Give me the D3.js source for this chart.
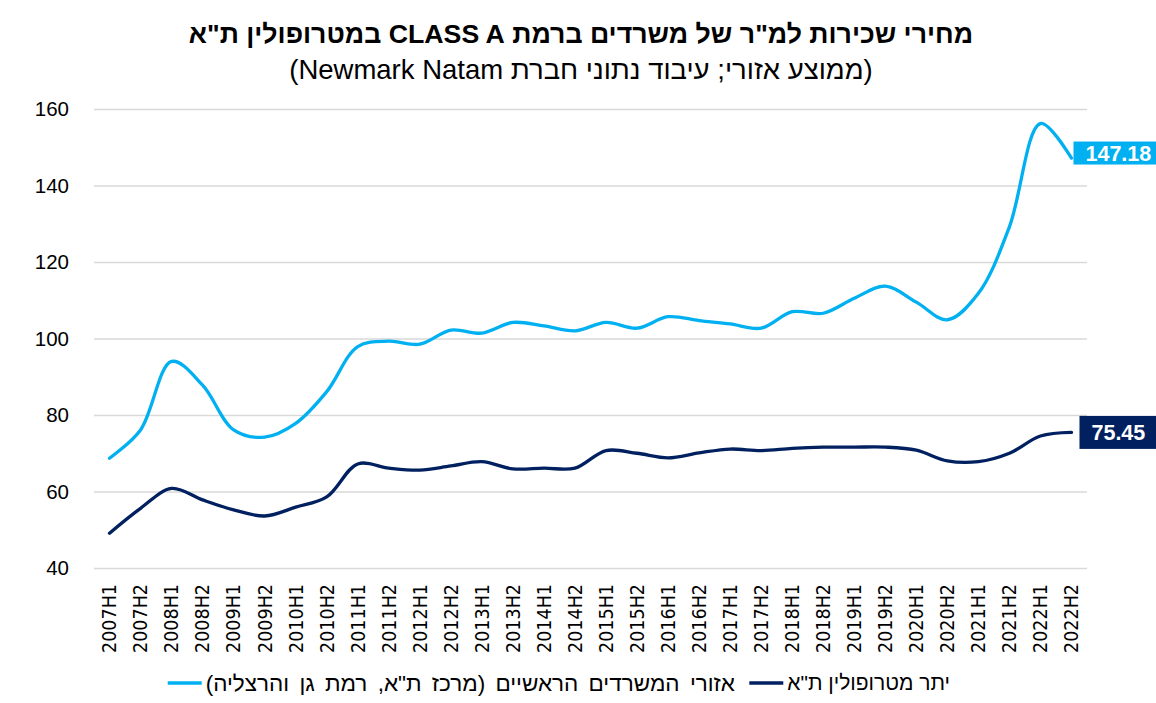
<!DOCTYPE html>
<html>
<head>
<meta charset="utf-8">
<script src="https://cdn.jsdelivr.net/npm/d3@7"></script>
<style>
  body { margin: 0; background: #fff; }
  text { font-family: 'Liberation Sans', Arial, sans-serif; }
</style>
</head>
<body>
<div id="viz"></div>
<script>
const width = 1156;
const height = 703;
const plotLeft = 94;
const plotRight = 1087;
const plotTop = 109;
const plotBottom = 568;

const lightBlue = '#00b0f0';
const navy = '#002060';
const gridColor = '#d9d9d9';

// half-year periods on the category axis
const periods = [
  '2007H1', '2007H2', '2008H1', '2008H2', '2009H1', '2009H2', '2010H1', '2010H2',
  '2011H1', '2011H2', '2012H1', '2012H2', '2013H1', '2013H2', '2014H1', '2014H2',
  '2015H1', '2015H2', '2016H1', '2016H2', '2017H1', '2017H2', '2018H1', '2018H2',
  '2019H1', '2019H2', '2020H1', '2020H2', '2021H1', '2021H2', '2022H1', '2022H2',
];

// main office areas (TA centre, Ramat Gan, Herzliya)
const mainOffices = [
  68.7, 76.1, 94.0, 87.8, 76.1, 74.2, 77.8, 86.1,
  97.9, 99.3, 98.5, 102.2, 101.4, 104.2, 103.3, 102.0,
  104.2, 102.7, 105.7, 104.7, 103.8, 102.7, 107.0, 106.6,
  110.5, 113.7, 109.5, 104.9, 111.8, 129.2, 156.2, 147.18,
];

// rest of TA metropolitan area
const restOfMetro = [
  49.1, 55.6, 60.8, 57.8, 55.2, 53.6, 55.9, 58.6,
  67.2, 66.1, 65.6, 66.7, 67.8, 65.9, 66.1, 66.1,
  70.7, 70.0, 68.8, 70.1, 71.1, 70.7, 71.3, 71.6,
  71.6, 71.6, 70.8, 68.0, 67.8, 70.0, 74.5, 75.45,
];

const yTicks = [40, 60, 80, 100, 120, 140, 160];

const titleText = 'מחירי שכירות למ"ר של משרדים ברמת CLASS A במטרופולין ת"א';
const subtitleText = '(ממוצע אזורי; עיבוד נתוני חברת Newmark Natam)';
const legendMain = 'אזורי המשרדים הראשיים (מרכז ת"א, רמת גן והרצליה)';
const legendRest = 'יתר מטרופולין ת"א';

const svg = d3
  .select('#viz')
  .append('svg')
  .attr('width', width)
  .attr('height', height)
  .attr('viewBox', [0, 0, width, height]);

const xScale = d3.scaleBand().domain(periods).range([plotLeft, plotRight]).padding(0);
const yScale = d3.scaleLinear().domain([40, 160]).range([plotBottom, plotTop]);
const xPos = (d, i) => xScale(periods[i]) + xScale.bandwidth() / 2;

// gridlines + y labels
const yAxis = d3
  .axisLeft(yScale)
  .tickValues(yTicks)
  .tickSize(-(plotRight - plotLeft))
  .tickPadding(25);

svg
  .append('g')
  .attr('transform', `translate(${plotLeft},0)`)
  .call(yAxis)
  .call((g) => g.select('.domain').remove())
  .call((g) => g.selectAll('.tick line').attr('stroke', gridColor).attr('stroke-width', 1.3))
  .call((g) =>
    g
      .selectAll('.tick text')
      .attr('fill', '#000')
      .style('font-family', "'Liberation Sans', Arial, sans-serif")
      .style('font-size', '20.5px')
  );

// x axis labels, rotated
const xAxis = d3.axisBottom(xScale).tickSize(0).tickPadding(0);
svg
  .append('g')
  .attr('transform', `translate(0,${plotBottom})`)
  .call(xAxis)
  .call((g) => g.select('.domain').remove())
  .call((g) =>
    g
      .selectAll('.tick text')
      .attr('fill', '#000')
      .attr('transform', 'rotate(-90)')
      .attr('text-anchor', 'end')
      .attr('dy', '0.35em')
      .attr('x', -16)
      .attr('y', 0)
      .style('font-family', "'DejaVu Sans Condensed', 'DejaVu Sans', sans-serif")
      .style('font-size', '19.5px')
  );

// the two smoothed lines
const line = d3
  .line()
  .x(xPos)
  .y((d) => yScale(d))
  .curve(d3.curveCatmullRom.alpha(0.5));

const series = [
  { values: mainOffices, color: lightBlue, boxH: 23, boxDy: -5, boxDx: 2 },
  { values: restOfMetro, color: navy, boxH: 33, boxDy: 0, boxDx: 8 },
];

series.forEach((s) => {
  svg
    .append('path')
    .attr('d', line(s.values))
    .attr('fill', 'none')
    .attr('stroke', s.color)
    .attr('stroke-width', 3.3)
    .attr('stroke-linejoin', 'round')
    .attr('stroke-linecap', 'round');

  // last value label
  const lastIdx = s.values.length - 1;
  const lx = xPos(null, lastIdx) + s.boxDx;
  const ly = yScale(s.values[lastIdx]) + s.boxDy;
  svg
    .append('rect')
    .attr('x', lx)
    .attr('y', ly - s.boxH / 2)
    .attr('width', 90)
    .attr('height', s.boxH)
    .attr('fill', s.color);
  svg
    .append('text')
    .attr('x', lx + 12)
    .attr('y', ly)
    .attr('dy', '0.36em')
    .attr('fill', '#fff')
    .style('font-size', '21.5px')
    .style('font-weight', 'bold')
    .text(d3.format('.2f')(s.values[lastIdx]));
});

// titles
svg
  .append('text')
  .attr('x', 581)
  .attr('y', 34)
  .attr('dy', '0.35em')
  .attr('direction', 'rtl')
  .attr('text-anchor', 'middle')
  .style('font-size', '26.7px')
  .style('font-weight', 'bold')
  .text(titleText);

svg
  .append('text')
  .attr('x', 581)
  .attr('y', 69)
  .attr('dy', '0.35em')
  .attr('direction', 'rtl')
  .attr('text-anchor', 'middle')
  .style('font-size', '27.5px')
  .text(subtitleText);

// legend: right edge of each label, line drawn to its left
const legendItems = [
  { label: legendMain, color: lightBlue, right: 735, size: 22.5, wordSpacing: 4 },
  { label: legendRest, color: navy, right: 950, size: 21, wordSpacing: 0 },
];
legendItems.forEach((item) => {
  const t = svg
    .append('text')
    .attr('x', 0)
    .attr('y', 683)
    .attr('dy', '0.35em')
    .attr('direction', 'rtl')
    .attr('text-anchor', 'middle')
    .style('font-size', item.size + 'px')
    .style('word-spacing', item.wordSpacing + 'px')
    .text(item.label);
  const w = t.node().getBBox().width;
  t.attr('x', item.right - w / 2);
  const left = item.right - w;
  svg
    .append('line')
    .attr('x1', left - 38)
    .attr('x2', left - 4)
    .attr('y1', 683)
    .attr('y2', 683)
    .attr('stroke', item.color)
    .attr('stroke-width', 3.3);
});
</script>
</body>
</html>
